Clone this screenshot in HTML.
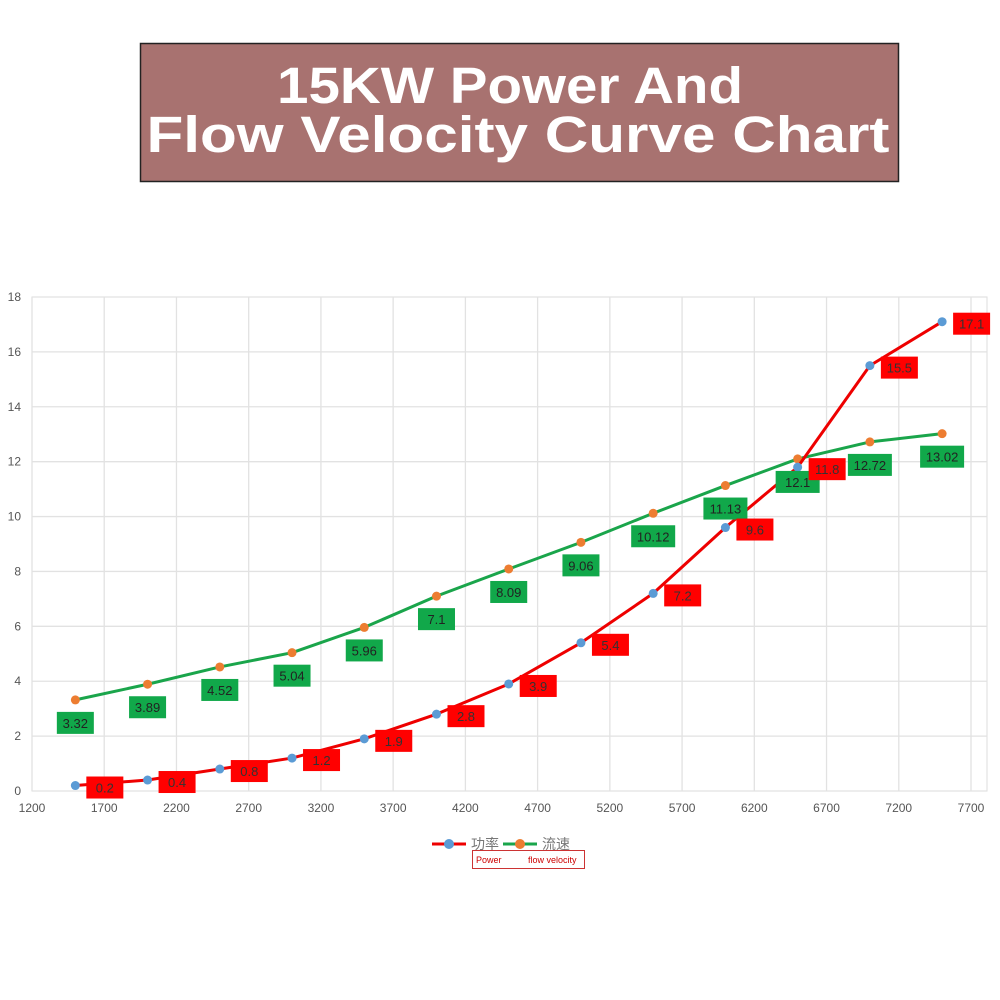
<!DOCTYPE html>
<html><head><meta charset="utf-8"><style>
body{margin:0;background:#fff;}
svg{display:block;font-family:"Liberation Sans","Noto Sans CJK SC",sans-serif;}
</style></head><body>
<svg width="1000" height="1000" viewBox="0 0 1000 1000">
<g>
<rect x="140.5" y="43.5" width="758" height="138" fill="#a87270" stroke="#222" stroke-width="1.5"/>
<text x="510" y="103" text-anchor="middle" font-size="51" font-weight="bold" fill="#fff" textLength="466" lengthAdjust="spacingAndGlyphs">15KW Power And</text>
<text x="518" y="152" text-anchor="middle" font-size="51" font-weight="bold" fill="#fff" textLength="743" lengthAdjust="spacingAndGlyphs">Flow Velocity Curve Chart</text>
</g>
<g id="plot"></g>
<g>
<line x1="432" y1="844" x2="466" y2="844" stroke="#e00" stroke-width="3"/>
<circle cx="449" cy="844" r="5" fill="#5b9bd5"/>
<text x="471" y="849" font-size="14" fill="#777">功率</text>
<line x1="503" y1="844" x2="537" y2="844" stroke="#1aa54b" stroke-width="3"/>
<circle cx="520" cy="844" r="5" fill="#ed7d31"/>
<text x="542" y="849" font-size="14" fill="#777">流速</text>
<rect x="472.5" y="850.5" width="112" height="18" fill="#fff" stroke="#c33" stroke-width="1"/>
<text x="476" y="863" font-size="9" fill="#c00">Power</text>
<text x="528" y="863" font-size="9" fill="#c00">flow velocity</text>
</g>
</svg>
<script>
const xCats=[1500,2000,2500,3000,3500,4000,4500,5000,5500,6000,6500,7000,7500];
const powerVals=[0.2,0.4,0.8,1.2,1.9,2.8,3.9,5.4,7.2,9.6,11.8,15.5,17.1];
const flowVals=[3.32,3.89,4.52,5.04,5.96,7.1,8.09,9.06,10.12,11.13,12.1,12.72,13.02];
const xTicks=[1200,1700,2200,2700,3200,3700,4200,4700,5200,5700,6200,6700,7200,7700];
const yTicks=[0,2,4,6,8,10,12,14,16,18];
const NS='http://www.w3.org/2000/svg';
const g=document.getElementById('plot');
const X=v=>32+(v-1200)*939/6500;
const Y=v=>791-v*494/18;
function el(t,a,p){const e=document.createElementNS(NS,t);for(const k in a)e.setAttribute(k,a[k]);(p||g).appendChild(e);return e;}
const fr=el('rect',{x:32,y:297,width:955,height:494,fill:'none',stroke:'#ddd'});


xTicks.forEach(t=>{
 const l=el('line',{x1:X(t),x2:X(t),y1:297,y2:791,stroke:'#e2e2e2','stroke-width':1.3});
 
 
 const tx=el('text',{x:X(t),y:812,'text-anchor':'middle','font-size':12,fill:'#555'});
 tx.textContent=t;
 
 
});
yTicks.forEach(t=>{
 const l=el('line',{x1:32,x2:987,y1:Y(t),y2:Y(t),stroke:'#e2e2e2','stroke-width':1.3});
 
 
 const tx=el('text',{x:21,y:Y(t)+4,'text-anchor':'end','font-size':12,fill:'#555'});
 tx.textContent=t;
 
 
});
function series(vals,col,dot,name){
 const p=el('polyline',{points:xCats.map((c,i)=>X(c)+','+Y(vals[i])).join(' '),fill:'none',stroke:col,'stroke-width':3,'stroke-linejoin':'round'});
 
 
 xCats.forEach((c,i)=>{
  const d=el('circle',{cx:X(c),cy:Y(vals[i]),r:4.5,fill:dot});
  
  
 });
}
series(flowVals,'#1aa54b','#ed7d31','flow');
series(powerVals,'#e00','#5b9bd5','power');
xCats.forEach((c,i)=>{
 const x=X(c),y=Y(flowVals[i]);
 const w=flowVals[i]>=10?44:37;
 const r=el('rect',{x:x-w/2,y:y+12,width:w,height:22,fill:'#11a84a'});
 
 
 const t=el('text',{x:x,y:y+28,'text-anchor':'middle','font-size':13,fill:'#222'});
 t.textContent=flowVals[i];
 
 
});
xCats.forEach((c,i)=>{
 const x=X(c),y=Y(powerVals[i]);
 const r=el('rect',{x:x+11,y:y-9,width:37,height:22,fill:'#f00'});
 
 
 const t=el('text',{x:x+29.5,y:y+7,'text-anchor':'middle','font-size':13,fill:'#333'});
 t.textContent=powerVals[i];
 
 
});
</script>
</body></html>
